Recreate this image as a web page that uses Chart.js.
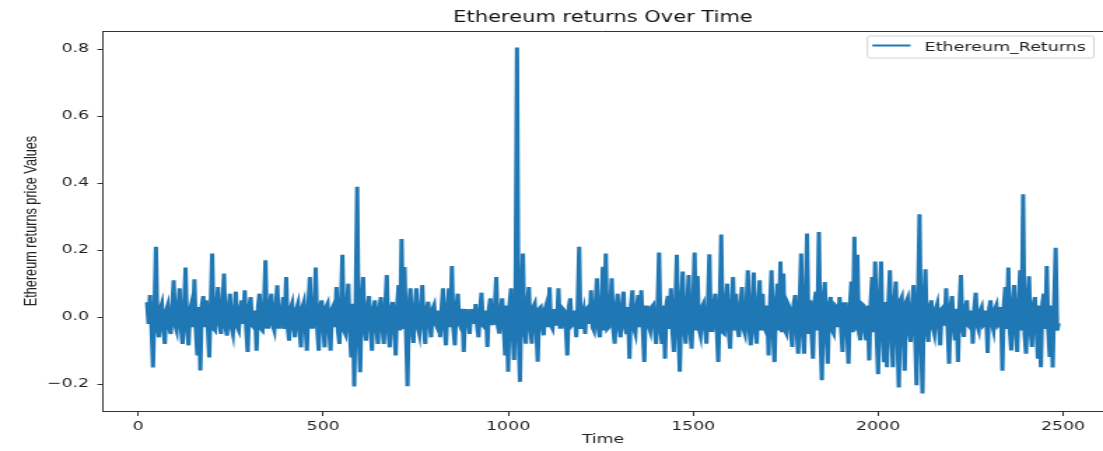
<!DOCTYPE html>
<html>
<head>
<meta charset="utf-8">
<script src="https://cdn.jsdelivr.net/npm/chart.js@4"></script>
<style>
  html, body { margin: 0; padding: 0; background: #fff; }
</style>
</head>
<body>
<!-- the reference picture is stretched sideways, so the canvas is drawn narrow and widened by its inline style -->
<canvas id="chart" width="788" height="451" style="display:block;width:1103px;height:451px;"></canvas>
<script>
// Ethereum daily returns, every 4 days starting at day 24
var startDay = 24;
var stepDays = 4;
var returns = [
  0.045, -0.02, 0.066, -0.03, -0.15, 0.02, 0.21, -0.03, -0.06, 0.025, 0.04, -0.035, -0.08, 0.02, 0.035, -0.03, -0.05, 0.03, 0.11, -0.025,
  -0.04, 0.03, 0.086, -0.035, -0.08, 0.025, 0.148, -0.03, -0.084, 0.02, 0.04, -0.03, 0.113, -0.04, -0.114, 0.03, -0.159, 0.035, 0.063, -0.03,
  0.05, -0.025, -0.12, 0.03, 0.19, -0.035, -0.04, 0.03, 0.09, -0.02, -0.05, 0.035, 0.13, -0.03, -0.055, 0.025, 0.07, -0.03, -0.05, 0.02,
  0.076, -0.03, -0.04, 0.025, 0.05, -0.02, 0.08, -0.035, -0.104, 0.03, 0.06, -0.025, -0.03, 0.02, -0.1, 0.03, 0.07, -0.035, -0.04, 0.025,
  0.17, -0.03, -0.03, 0.035, 0.07, -0.025, -0.04, 0.03, 0.095, -0.03, -0.03, 0.02, 0.06, -0.035, 0.12, -0.03, -0.07, 0.025, 0.04, -0.03,
  -0.06, 0.025, 0.04, -0.03, -0.09, 0.03, 0.045, -0.025, -0.10, 0.035, 0.12, -0.03, -0.03, 0.025, 0.148, -0.035, -0.10, 0.03, 0.05, -0.025,
  -0.09, 0.03, 0.04, -0.035, -0.10, 0.025, 0.035, -0.03, 0.09, -0.04, -0.08, 0.035, 0.186, -0.04, -0.05, 0.03, 0.10, -0.045, -0.12, 0.04,
  -0.207, 0.05, 0.389, -0.05, -0.164, 0.04, 0.12, -0.035, -0.07, 0.03, 0.063, -0.03, -0.10, 0.025, 0.05, -0.03, -0.08, 0.025, 0.06, -0.03,
  -0.08, 0.03, 0.126, -0.035, -0.09, 0.025, 0.045, -0.03, -0.114, 0.035, 0.096, -0.04, 0.233, -0.035, 0.15, -0.04, -0.206, 0.035, 0.086, -0.03,
  -0.077, 0.025, 0.086, -0.03, -0.05, 0.02, 0.096, -0.03, -0.08, 0.025, 0.046, -0.02, -0.06, 0.025, 0.036, -0.02, -0.03, 0.02, -0.06, 0.025,
  0.086, -0.03, -0.084, 0.025, 0.086, -0.03, 0.153, -0.035, -0.084, 0.025, 0.07, -0.02, -0.03, 0.025, -0.104, 0.02, 0.02, -0.015, -0.05, 0.02,
  0.02, -0.02, 0.039, -0.025, -0.06, 0.02, 0.073, -0.025, -0.03, 0.02, -0.089, 0.025, 0.056, -0.02, -0.02, 0.03, 0.12, -0.025, -0.049, 0.02,
  0.056, -0.03, -0.114, 0.035, -0.163, 0.04, 0.086, -0.04, -0.128, 0.06, 0.805, -0.05, -0.193, 0.06, 0.19, -0.04, -0.079, 0.035, 0.09, -0.03,
  -0.079, 0.03, 0.04, -0.03, -0.133, 0.025, 0.03, -0.02, -0.054, 0.025, 0.04, -0.03, 0.089, -0.025, -0.034, 0.02, 0.02, -0.025, 0.086, -0.03,
  -0.03, 0.025, 0.02, -0.03, -0.114, 0.03, 0.056, -0.025, -0.02, 0.02, -0.06, 0.03, 0.21, -0.035, 0.0, 0.02, -0.05, 0.025, 0.03, -0.02,
  0.08, -0.03, -0.04, 0.035, 0.116, -0.035, -0.06, 0.03, 0.15, -0.04, 0.19, -0.035, -0.03, 0.03, 0.116, -0.035, -0.079, 0.03, 0.07, -0.03,
  -0.06, 0.035, 0.076, -0.03, -0.05, 0.03, -0.124, 0.035, 0.08, -0.035, -0.05, 0.03, 0.066, -0.03, 0.08, -0.035, -0.134, 0.03, 0.03, -0.025,
  -0.04, 0.03, 0.036, -0.035, -0.08, 0.03, 0.193, -0.04, -0.08, 0.035, -0.124, 0.04, 0.063, -0.035, 0.086, -0.04, -0.104, 0.035, 0.186, -0.04,
  -0.163, 0.04, 0.136, -0.035, -0.079, 0.035, 0.126, -0.04, -0.094, 0.035, 0.193, -0.04, 0.123, -0.035, -0.054, 0.03, 0.04, -0.035, -0.079, 0.035,
  0.188, -0.04, -0.04, 0.035, 0.07, -0.035, -0.134, 0.04, 0.247, -0.045, -0.049, 0.035, 0.1, -0.04, -0.094, 0.035, 0.12, -0.04, 0.07, -0.035,
  -0.059, 0.035, 0.09, -0.035, -0.049, 0.03, 0.14, -0.04, -0.084, 0.035, 0.133, -0.04, -0.079, 0.035, 0.11, -0.04, 0.07, -0.03, -0.04, 0.035,
  -0.114, 0.04, 0.14, -0.045, -0.134, 0.04, 0.1, -0.04, 0.166, -0.045, 0.13, -0.04, -0.049, 0.04, 0.03, -0.035, -0.089, 0.04, 0.066, -0.04,
  -0.109, 0.045, 0.19, -0.045, -0.109, 0.04, 0.25, -0.05, 0.05, -0.04, -0.124, 0.045, 0.076, -0.04, 0.254, -0.05, -0.188, 0.05, 0.105, -0.045,
  -0.139, 0.04, 0.06, -0.04, -0.049, 0.035, 0.03, -0.03, 0.06, -0.035, -0.104, 0.04, 0.04, -0.035, -0.139, 0.04, 0.106, -0.045, 0.24, -0.04,
  0.186, -0.045, -0.069, 0.04, 0.036, -0.04, -0.069, 0.035, -0.129, 0.045, 0.12, -0.045, 0.166, -0.05, -0.17, 0.05, 0.166, -0.045, -0.134, 0.045,
  -0.149, 0.045, 0.14, -0.05, -0.149, 0.045, 0.106, -0.045, -0.21, 0.05, 0.06, -0.045, -0.16, 0.045, 0.056, -0.04, -0.074, 0.04, 0.096, -0.045,
  -0.203, 0.05, 0.307, -0.06, -0.228, 0.05, 0.143, -0.04, -0.074, 0.03, 0.05, -0.03, -0.049, 0.025, 0.04, -0.03, -0.084, 0.025, 0.03, -0.025,
  0.086, -0.03, -0.139, 0.03, 0.063, -0.025, -0.069, 0.025, -0.134, 0.03, 0.126, -0.03, -0.059, 0.025, 0.05, -0.025, -0.03, 0.02, -0.079, 0.025,
  0.073, -0.025, -0.039, 0.02, 0.03, -0.025, -0.02, 0.02, -0.107, 0.025, 0.05, -0.02, -0.039, 0.025, 0.036, -0.025, -0.02, 0.03, -0.16, 0.035,
  0.09, -0.035, 0.148, -0.04, -0.099, 0.035, 0.096, -0.04, -0.104, 0.035, 0.14, -0.04, 0.367, -0.05, -0.109, 0.04, 0.122, -0.04, -0.089, 0.035,
  0.06, -0.035, -0.124, 0.035, -0.149, 0.04, 0.07, -0.035, 0.153, -0.04, -0.119, 0.035, -0.15, 0.045, 0.207, -0.04, -0.018
];
var times = returns.map(function (v, i) { return startDay + i * stepDays; });

var xTicks = [0, 500, 1000, 1500, 2000, 2500];
var yTicks = [-0.2, 0.0, 0.2, 0.4, 0.6, 0.8];

var lineColor = "#1f77b4";
var axisColor = "#333333";

Chart.defaults.font.family = "'DejaVu Sans', sans-serif";
Chart.defaults.color = "#222222";

// top spine, matplotlib style
var framePlugin = {
  id: "frame",
  afterDraw: function (chart) {
    var ctx = chart.ctx, ca = chart.chartArea;
    ctx.save();
    ctx.strokeStyle = axisColor;
    ctx.lineWidth = 1;
    ctx.beginPath();
    ctx.moveTo(ca.left, ca.top + 0.5);
    ctx.lineTo(ca.right, ca.top + 0.5);
    ctx.stroke();
    ctx.restore();
  }
};

// legend box inside the plot, top right
var legendBox = {
  id: "legendBox",
  afterDraw: function (chart) {
    var ctx = chart.ctx, ca = chart.chartArea;
    var ds = chart.data.datasets[0];
    ctx.save();
    ctx.font = "12.5px 'DejaVu Sans'";
    var tw = ctx.measureText(ds.label).width;
    var boxRight = ca.right - 6.5, boxTop = ca.top + 5, boxH = 22;
    var textLeft = boxRight - 5.7 - tw;
    var lineStart = textLeft - 37.3, lineEnd = textLeft - 10;
    var boxLeft = lineStart - 3.5;
    ctx.fillStyle = "rgba(255,255,255,0.8)";
    ctx.strokeStyle = "#d3d3d3";
    ctx.lineWidth = 1;
    ctx.beginPath();
    ctx.roundRect(boxLeft, boxTop, boxRight - boxLeft, boxH, 2);
    ctx.fill();
    ctx.stroke();
    ctx.strokeStyle = ds.borderColor;
    ctx.lineWidth = 2;
    ctx.beginPath();
    ctx.moveTo(lineStart, boxTop + 9.5);
    ctx.lineTo(lineEnd, boxTop + 9.5);
    ctx.stroke();
    ctx.fillStyle = "#222222";
    ctx.textBaseline = "middle";
    ctx.fillText(ds.label, textLeft, boxTop + 11.5);
    ctx.restore();
  }
};

new Chart(document.getElementById("chart"), {
  type: "line",
  data: {
    datasets: [{
      label: "Ethereum_Returns",
      data: returns.map(function (v, i) { return { x: times[i], y: v }; }),
      borderColor: lineColor,
      borderWidth: 3,
      borderJoinStyle: "miter",
      pointRadius: 0,
      tension: 0,
      fill: false
    }]
  },
  options: {
    responsive: false,
    animation: false,
    devicePixelRatio: 1,
    layout: { padding: { left: 0, right: 0, top: 0, bottom: 0 } },
    plugins: {
      legend: { display: false },
      tooltip: { enabled: false },
      title: {
        display: true,
        text: "Ethereum returns Over Time",
        fullSize: false,
        color: "#111111",
        font: { size: 15, weight: "normal" },
        padding: { top: 9, bottom: 4 }
      }
    },
    scales: {
      x: {
        type: "linear",
        min: -95,
        max: 2608,
        afterBuildTicks: function (s) { s.ticks = xTicks.map(function (v) { return { value: v }; }); },
        afterFit: function (s) { s.height = 40; },
        grid: { display: true, drawOnChartArea: false, drawTicks: true, tickLength: 5, color: axisColor },
        border: { display: true, color: axisColor, width: 1 },
        ticks: {
          padding: 3,
          maxRotation: 0,
          font: { size: 12.4 },
          callback: function (v) { return String(v); }
        },
        title: {
          display: true,
          text: "Time",
          font: { size: 12.4 },
          padding: { top: 0, bottom: 3.6 }
        }
      },
      y: {
        type: "linear",
        min: -0.28,
        max: 0.854,
        afterBuildTicks: function (s) { s.ticks = yTicks.map(function (v) { return { value: v }; }); },
        afterFit: function (s) { s.width = 73.6; },
        grid: { display: true, drawOnChartArea: false, drawTicks: true, tickLength: 4, color: axisColor },
        border: { display: true, color: axisColor, width: 1 },
        ticks: {
          padding: 6,
          font: { size: 12.4 },
          callback: function (v) { return v.toFixed(1).replace("-", "\u2212"); }
        },
        title: {
          display: true,
          text: "Ethereum returns price Values",
          font: { family: "'Liberation Sans', sans-serif", size: 12.7 },
          padding: { top: 15, bottom: 0 }
        }
      }
    }
  },
  plugins: [framePlugin, legendBox]
});
</script>
</body>
</html>
